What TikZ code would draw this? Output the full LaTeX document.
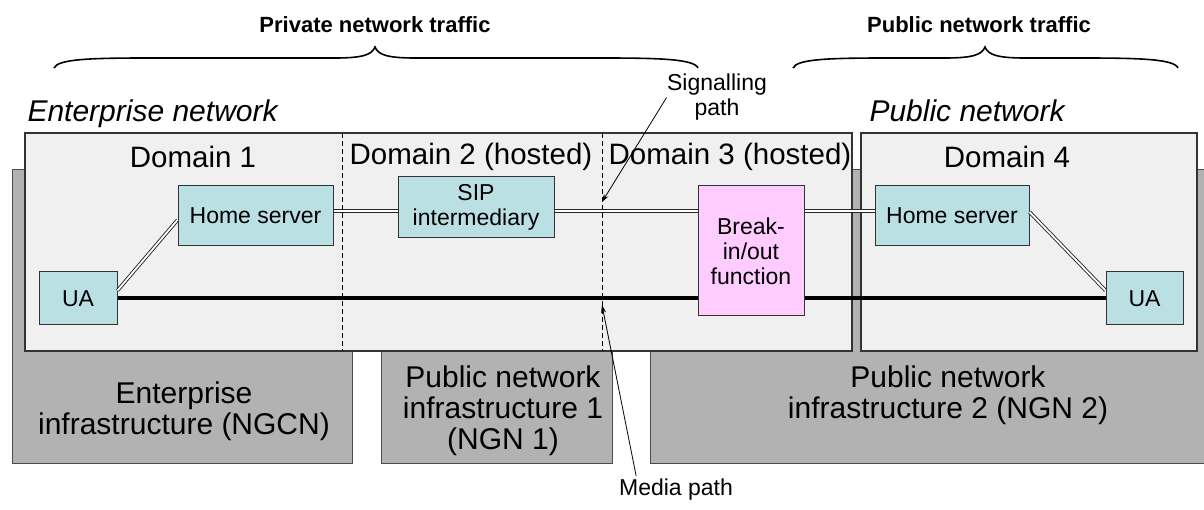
\documentclass[tikz,border=0pt]{standalone}
\usepackage{fontspec}
\setmainfont{Liberation Sans}
\usetikzlibrary{arrows.meta,calc}
\definecolor{infragray}{HTML}{B2B2B2}
\definecolor{panelgray}{HTML}{F0F0F0}
\definecolor{teal}{HTML}{BBE0E3}
\definecolor{pinkbox}{HTML}{FFCCFF}
\tikzset{
  infra/.style={fill=infragray,draw=black!70,line width=0.8pt},
  panel/.style={fill=panelgray,draw=black!80,line width=1.2pt},
  divider/.style={line width=0.8pt,dash pattern=on 5pt off 3pt},
  tbox/.style={draw=black!80,line width=1pt,fill=teal,inner sep=0pt,align=center,font=\fontsize{23}{25}\selectfont},
  pbox/.style={tbox,fill=pinkbox},
  sig/.style={draw=black!85,double=white,line width=0.9pt,double distance=1.8pt},
  media/.style={line width=4pt,draw=black},
  arr/.style={line width=0.8pt,-{Stealth[length=8pt,width=5pt]}},
  dom/.style={font=\fontsize{29.5}{32}\selectfont},
  infratxt/.style={align=center,font=\fontsize{30}{31}\selectfont},
  nettxt/.style={anchor=base west,font=\fontsize{30}{32}\selectfont\itshape},
  trafftxt/.style={font=\fontsize{22}{24}\selectfont\bfseries},
  small/.style={align=center,font=\fontsize{23}{25}\selectfont},
  brace/.style={line width=1.6pt}
}
\begin{document}
\begin{tikzpicture}[x=1pt,y=-1pt]
\useasboundingbox (0,0) rectangle (1204,510);
% infrastructure boxes
\path[infra] (12,169) rectangle (352,463);
\path[infra] (381,169) rectangle (612,463);
\path[infra] (650,169) rectangle (1215,463);
% panels
\path[panel] (25,133) rectangle (852,351);
\path[panel] (861,133) rectangle (1197,351);
\draw[divider] (342,133) -- (342,351);
\draw[divider] (602,133) -- (602,351);
% texts on panels
\node[dom] (d1) at (193,157) {Domain 1};
\node[dom] (d2) at (471,157) {Domain 2 (hosted)};
\node[dom] (d3) at (730,157) {Domain 3 (hosted)};
\node[dom] (d4) at (1007,157) {Domain 4};
\node[nettxt] (en) at (24,122) {Enterprise network};
\node[nettxt] (pn) at (866,122) {Public network};
% infrastructure texts
\node[infratxt] (ei) at (184,411) {Enterprise\\infrastructure (NGCN)};
\node[infratxt] (pi1) at (503,411) {Public network\\infrastructure 1\\(NGN 1)};
\node[infratxt] (pi2) at (948,395) {Public network\\infrastructure 2 (NGN 2)};
% functional boxes
\node[tbox,minimum width=155pt,minimum height=60pt] (hs1) at (255.5,216) {Home server};
\node[tbox,minimum width=78pt,minimum height=53pt] (ua1) at (78,298.5) {UA};
\node[tbox,minimum width=156pt,minimum height=61pt] (sip) at (476,207.5) {SIP\\intermediary};
\node[pbox,minimum width=106pt,minimum height=130pt] (brk) at (751,251) {Break-\\in/out\\function};
\node[tbox,minimum width=154pt,minimum height=60pt] (hs2) at (952,216) {Home server};
\node[tbox,minimum width=77pt,minimum height=53pt] (ua2) at (1144.5,298.5) {UA};
% signalling path
\coordinate (sigy) at (0,211);
\draw[sig] (hs1.east |- sigy) -- (sip.west |- sigy);
\draw[sig] (sip.east |- sigy) -- (brk.west |- sigy);
\draw[sig] (brk.east |- sigy) -- (hs2.west |- sigy);
\draw[sig] ($(hs1.west)+(0,4)$) -- ($(ua1.east)+(0,-8)$);
\draw[sig] ($(hs2.east)+(0,-4)$) -- ($(ua2.west)+(0,-8)$);
% media path
\draw[media] (ua1.east) -- (brk.west |- ua1.east);
\draw[media] (brk.east |- ua2.west) -- (ua2.west);
% labels with arrows
\node[small] (sigl) at (717,97.5) {Signalling\\path};
\coordinate (sigtip) at (602,202);
\draw[arr] ($(sigl.west)+(3,0)$) -- (sigtip);
\node[small] (medl) at (676,490) {Media path};
\coordinate (medtip) at (602,305);
\draw[arr] ($(medl.north west)!0.17!(medl.north east)$) -- (medtip);
% braces
\node[trafftxt] (privt) at (375,25) {Private network traffic};
\node[trafftxt] (pubt) at (979,25) {Public network traffic};
\draw[brace] (54,68) .. controls (58,59) and (90,58) .. (150,58) -- (335,58)
  .. controls (362,58) and (372,55) .. (375,47)
  .. controls (378,55) and (388,58) .. (415,58) -- (600,58)
  .. controls (660,58) and (694,59) .. (698,68);
\draw[brace] (793,68) .. controls (797,59) and (829,58) .. (889,58) -- (945,58)
  .. controls (972,58) and (982,55) .. (985,47)
  .. controls (988,55) and (998,58) .. (1025,58) -- (1080,58)
  .. controls (1140,58) and (1174,59) .. (1178,68);
\end{tikzpicture}
\end{document}
